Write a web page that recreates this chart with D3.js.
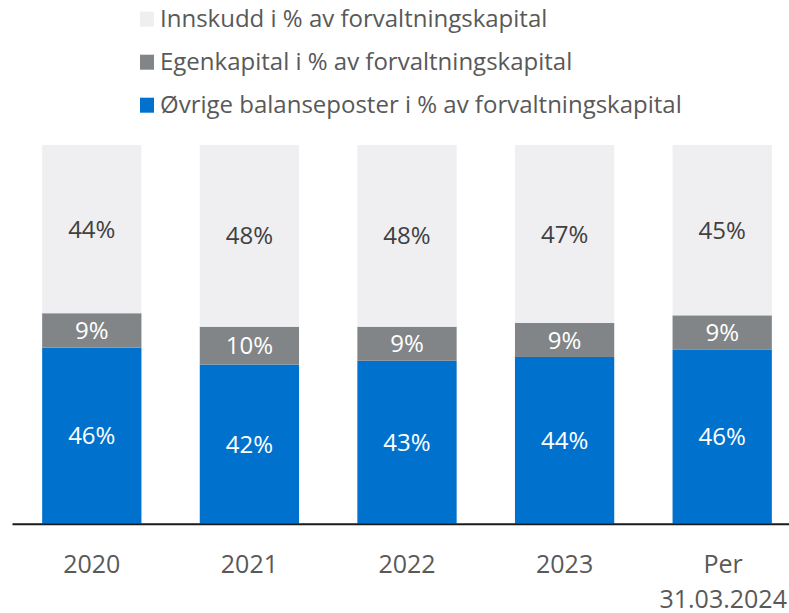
<!DOCTYPE html>
<html>
<head>
<meta charset="utf-8">
<script src="https://cdn.jsdelivr.net/npm/d3@7"></script>
<style>
  html, body { margin: 0; padding: 0; background: #fff; }
  svg { display: block; font-family: "Open Sans", sans-serif; }
</style>
</head>
<body>
<svg id="chart" width="789" height="613"></svg>
<script>
// ---- data ----
const categories = ["2020", "2021", "2022", "2023", "Per\n31.03.2024"];
const ovrige     = [46, 42, 43, 44, 46];   // Øvrige balanseposter i % av forvaltningskapital
const egenkapital = [9, 10, 9, 9, 9];      // Egenkapital i % av forvaltningskapital
const innskudd   = [44, 48, 48, 47, 45];   // Innskudd i % av forvaltningskapital
const seriesNames = [
  "Øvrige balanseposter i % av forvaltningskapital",
  "Egenkapital i % av forvaltningskapital",
  "Innskudd i % av forvaltningskapital"
];
const legendOrder = [2, 1, 0];

// ---- styles ----
const colors = ["#0072ce", "#818587", "#efeff1"];
const labelColors = ["#ffffff", "#ffffff", "#404040"];

const svg = d3.select("#chart");
const keys = ["ovrige", "egenkapital", "innskudd"];
const rows = categories.map((c, i) => ({
  cat: c, ovrige: ovrige[i], egenkapital: egenkapital[i], innskudd: innskudd[i]
}));
const stack = d3.stack().keys(keys).offset(d3.stackOffsetExpand);
const stacked = stack(rows);

const x = d3.scaleBand().domain(categories).range([13, 801]).paddingInner(0.37).paddingOuter(0.185);
const y = d3.scaleLinear().domain([0, 1]).range([523.5, 145]);

// bars
const g = svg.append("g");
stacked.forEach((layer, si) => {
  const lg = g.append("g");
  lg.selectAll("rect").data(layer).enter().append("rect")
    .attr("x", d => x(d.data.cat))
    .attr("width", x.bandwidth())
    .attr("y", d => y(d[1]))
    .attr("height", d => y(d[0]) - y(d[1]))
    .attr("fill", colors[si]);
  lg.selectAll("text").data(layer).enter().append("text")
    .attr("x", d => x(d.data.cat) + x.bandwidth() / 2)
    .attr("y", d => (y(d[0]) + y(d[1])) / 2)
    .attr("dy", "0.36em")
    .attr("text-anchor", "middle")
    .attr("font-size", 24)
    .attr("fill", labelColors[si])
    .text(d => d.data[keys[si]] + "%");
});

// axis
const xAxis = d3.axisBottom(x).tickSize(0).tickFormat("");
const ax = svg.append("g").attr("transform", "translate(0,524)").call(xAxis);
ax.select(".domain").remove();
svg.append("line")
  .attr("x1", 12.5).attr("x2", 789).attr("y1", 524.3).attr("y2", 524.3)
  .attr("stroke", "#1a1a1a").attr("stroke-width", 2);

// category labels
const cl = svg.append("g");
categories.forEach(c => {
  const lines = c.split("\n");
  const t = cl.append("text")
    .attr("x", x(c) + x.bandwidth() / 2 + (lines.length > 1 ? 1 : 0))
    .attr("y", 573)
    .attr("text-anchor", "middle")
    .attr("font-size", 25)
    .attr("fill", "#595959");
  lines.forEach((ln, i) => {
    t.append("tspan")
      .attr("x", x(c) + x.bandwidth() / 2 + (lines.length > 1 ? 1 : 0))
      .attr("dy", i === 0 ? 0 : 35)
      .text(ln);
  });
});

// legend
const leg = svg.append("g");
legendOrder.forEach((si, i) => {
  const by = 26.7 + i * 43;
  leg.append("rect")
    .attr("x", 140).attr("y", by - 15).attr("width", 14).attr("height", 15)
    .attr("fill", colors[si]);
  leg.append("text")
    .attr("x", 160).attr("y", by)
    .attr("font-size", 24)
    .attr("fill", "#595959")
    .text(seriesNames[si]);
});
</script>
</body>
</html>
